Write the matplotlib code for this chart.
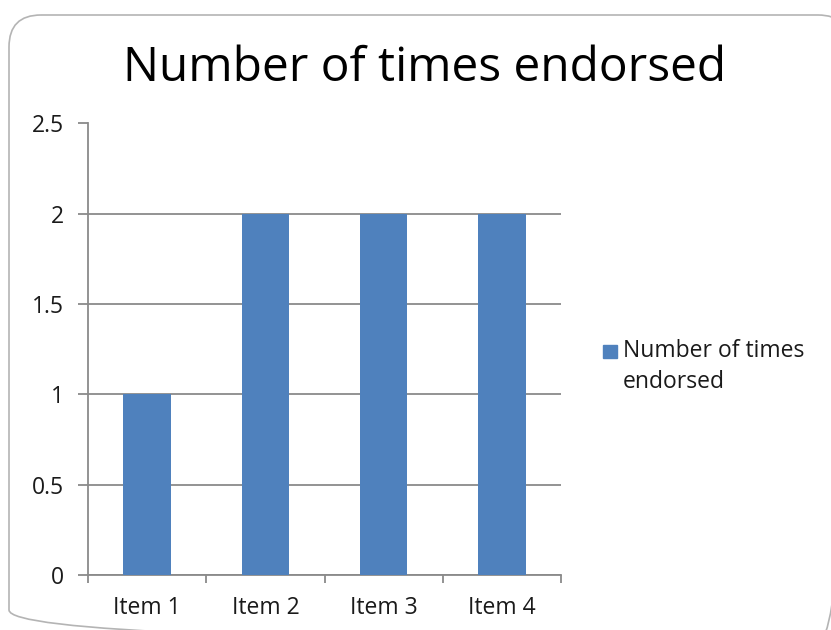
import matplotlib
matplotlib.use("Agg")
import matplotlib.pyplot as plt
from matplotlib.patches import FancyBboxPatch
from matplotlib.ticker import FixedLocator

items = ["Item 1", "Item 2", "Item 3", "Item 4"]
endorsed = [1, 2, 2, 2]
yticks = [0, 0.5, 1, 1.5, 2, 2.5]
ytick_labels = ["0", "0.5", "1", "1.5", "2", "2.5"]

plt.rcParams['font.family'] = ['Open Sans', 'DejaVu Sans']

W, H = 831, 630
fig = plt.figure(figsize=(W / 100, H / 100), dpi=100)
fig.patch.set_facecolor("white")

# background axes in pixel units for the rounded chart frame
bg = fig.add_axes([0, 0, 1, 1], zorder=-1)
bg.set_xlim(0, W)
bg.set_ylim(H, 0)
bg.axis("off")
frame = FancyBboxPatch((9, 15), 841, 627,
                       boxstyle="round,pad=0,rounding_size=32",
                       facecolor="none", edgecolor="#b4b4b4", linewidth=1.2,
                       clip_on=False)
bg.add_patch(frame)

ax = fig.add_axes([88 / W, (H - 575) / H, (561 - 88) / W, (575 - 123.5) / H])
ax.patch.set_alpha(0)
grid_c = "#8a8a8a"
txt_c = "#1a1a1a"
fs = 16.5

x = list(range(len(items)))
ax.bar(x, endorsed, width=0.4, color="#4f81bd", zorder=3)

ax.set_xlim(-0.5, len(items) - 0.5)
ax.set_ylim(0, 2.5)
ax.set_yticks(yticks)
ax.set_yticklabels(ytick_labels)
ax.yaxis.grid(True, color=grid_c, linewidth=1.3)
ax.set_axisbelow(True)

ax.set_xticks(x)
ax.set_xticklabels(items)
ax.xaxis.set_minor_locator(FixedLocator([i - 0.5 for i in range(len(items) + 1)]))
ax.tick_params(axis="x", which="major", length=0, pad=15, labelsize=fs, labelcolor=txt_c)
ax.tick_params(axis="x", which="minor", length=6, width=1.3, color=grid_c, direction="out")
ax.tick_params(axis="y", length=7, width=1.3, color=grid_c, pad=10, labelsize=fs, labelcolor=txt_c)

for s in ["top", "right"]:
    ax.spines[s].set_visible(False)
for s in ["left", "bottom"]:
    ax.spines[s].set_color(grid_c)
    ax.spines[s].set_linewidth(1.3)

fig.text(425 / W, 1 - 68 / H, "Number of times endorsed", ha="center", va="center",
         fontsize=34.5, color="black")

# legend
fig.patches.append(plt.Rectangle((603 / W, 1 - 358 / H), 14 / W, 13 / H,
                                 transform=fig.transFigure, color="#4f81bd"))
fig.text(623 / W, 1 - 351 / H, "Number of times", ha="left", va="center",
         fontsize=fs, color=txt_c)
fig.text(623 / W, 1 - 382 / H, "endorsed", ha="left", va="center",
         fontsize=fs, color=txt_c)

fig.savefig("out.png", dpi=100)
